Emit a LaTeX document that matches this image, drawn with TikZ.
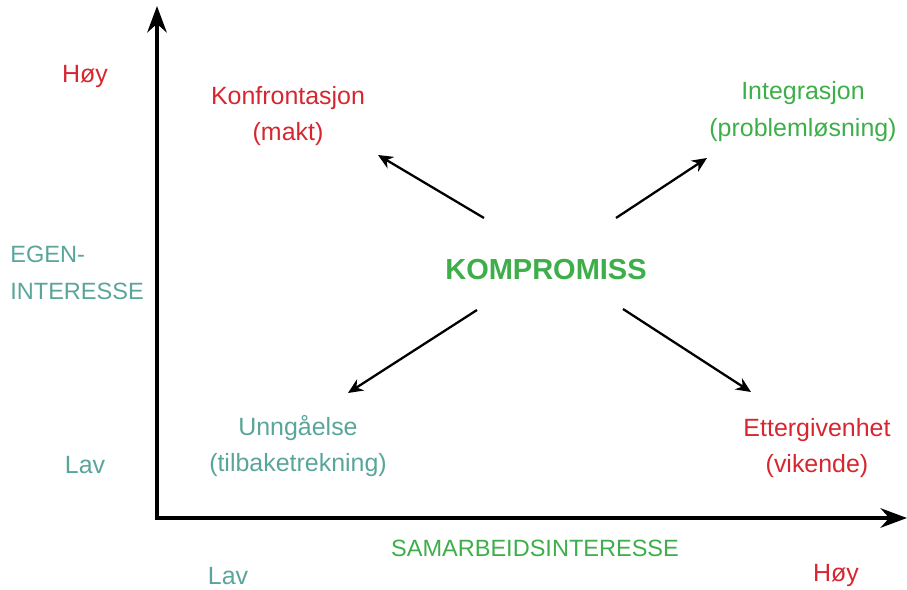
\documentclass[tikz,border=0pt]{standalone}
\usepackage{fontspec}
\setmainfont{Liberation Sans}
\usepackage{tikz}
\usetikzlibrary{arrows.meta}
\definecolor{kred}{RGB}{214,38,48}
\definecolor{kgreen}{RGB}{61,174,73}
\definecolor{kteal}{RGB}{90,165,155}
\tikzstyle{axis} = [line width=2.8pt,-{Stealth[length=15pt,width=11pt]}]
\tikzstyle{arrow} = [line width=1.3pt,-{Stealth[length=8.5pt,width=7.5pt]}]
\tikzstyle{lbl} = [align=center,inner sep=0pt,font=\fontsize{14.2}{21}\selectfont]
\tikzstyle{caps} = [lbl,font=\fontsize{13.4}{21}\selectfont]

\begin{document}
\begin{tikzpicture}[x=0.02cm,y=-0.02cm]
\useasboundingbox (0,0) rectangle (907,590);

% axes
\coordinate (o) at (157,518);
\coordinate (ytop) at (157,6);
\coordinate (xend) at (907,518);
\draw[axis] (o) -- (ytop);
\draw[axis] ([xshift=-1.4pt]o) -- (xend);

% axis labels
\node[lbl,text=kred] (yhigh) at (85,77) {Høy};
\node[lbl,text=kteal] (ylow) at (85,465) {Lav};
\node[caps,text=kteal,align=left,anchor=west] (ytitle) at (10,273) {EGEN-\\INTERESSE};
\node[caps,text=kgreen] (xtitle) at (535,548) {SAMARBEIDSINTERESSE};
\node[lbl,text=kteal] (xlow) at (228,576) {Lav};
\node[lbl,text=kred] (xhigh) at (836,576) {Høy};

% styles
\node[lbl,text=kred] (konf) at (288,116) {Konfrontasjon\\(makt)};
\node[lbl,text=kgreen] (integ) at (803,112) {Integrasjon\\(problemløsning)};
\node[lbl,text=kteal] (unng) at (298,446) {Unngåelse\\(tilbaketrekning)};
\node[lbl,text=kred] (etter) at (817,448) {Ettergivenhet\\(vikende)};
\node[text=kgreen,inner sep=0pt,font=\fontsize{16.5}{20}\selectfont\bfseries] (komp) at (546,270) {KOMPROMISS};

\coordinate (ul) at (484,218);
\coordinate (ur) at (616,218);
\coordinate (ll) at (477,310);
\coordinate (lr) at (623,309);
\coordinate (ulT) at (378,155);
\coordinate (urT) at (707,158);
\coordinate (llT) at (348,393);
\coordinate (lrT) at (751,392);

\draw[arrow] (ul) -- (ulT);
\draw[arrow] (ur) -- (urT);
\draw[arrow] (ll) -- (llT);
\draw[arrow] (lr) -- (lrT);

\end{tikzpicture}
\end{document}
